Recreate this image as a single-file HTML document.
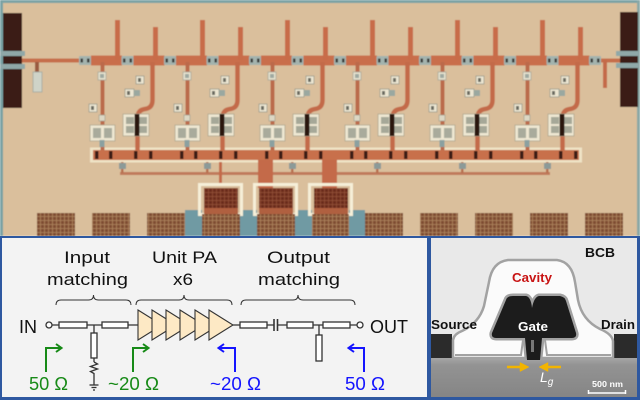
<!DOCTYPE html>
<html><head><meta charset="utf-8"><style>
html,body{margin:0;padding:0;background:#fff;}
svg{display:block;}
</style></head><body>
<svg width="640" height="400" viewBox="0 0 640 400" xmlns="http://www.w3.org/2000/svg">
<defs>
<filter id="soft" x="0" y="0" width="1" height="1"><feGaussianBlur stdDeviation="0.6"/></filter>
<pattern id="lat" width="4" height="4" patternUnits="userSpaceOnUse"><rect width="4" height="4" fill="#7e4c30"/><path d="M0 0.5H4M0.5 0V4" stroke="#b08660" stroke-width="0.8"/></pattern>
<pattern id="lat2" width="4" height="4" patternUnits="userSpaceOnUse"><rect width="4" height="4" fill="#6a2c1c"/><path d="M0 0.5H4M0.5 0V4" stroke="#93513a" stroke-width="0.8"/></pattern>
<g id="cap"><rect x="-6" y="-4.5" width="12" height="9" rx="1" fill="#a3b3ae"/><rect x="-4.5" y="-2" width="2.5" height="4" fill="#3a3a3a"/><rect x="2" y="-2" width="2.5" height="4" fill="#3a3a3a"/></g>
<g id="unit">
 <rect x="91" y="55.5" width="31" height="10" fill="#c96e4b"/>
 <rect x="133.5" y="55.5" width="31" height="10" fill="#c96e4b"/>
 <rect x="115" y="20" width="5" height="40" fill="#c86c49"/>
 <rect x="153" y="27" width="5" height="33" fill="#c86c49"/>
 <rect x="100.5" y="62" width="4" height="88" fill="#bb6a4b"/>
 <path d="M152.5 62 V100 Q152.5 108 145 109 Q137.5 110 137.5 118 V150" stroke="#c36a49" stroke-width="4.5" fill="none"/>
 <rect x="98" y="72" width="8" height="8" fill="#e6e2cf" stroke="#a8a89a" stroke-width="0.8"/><rect x="100" y="74" width="4" height="4" fill="#9fa9a0"/>
 <rect x="89" y="104" width="8" height="8" fill="#ece6d2" stroke="#9a9a8c" stroke-width="0.8"/><rect x="91" y="106" width="3" height="4" fill="#6a6a60"/>
 <rect x="99" y="115" width="6" height="6" fill="#ddd8c4" stroke="#9a9a8c" stroke-width="0.6"/>
 <rect x="90" y="125" width="25" height="16" fill="#eee7d2" stroke="#b0a890" stroke-width="0.8"/>
 <rect x="93" y="128" width="8" height="10" fill="#a9ab9c"/><rect x="104" y="128" width="8" height="10" fill="#a9ab9c"/>
 <rect x="99.5" y="140" width="5" height="7" fill="#8aa0a0"/>
 <rect x="136" y="76" width="8" height="8" fill="#ece6d2" stroke="#9a9a8c" stroke-width="0.8"/><rect x="138" y="78" width="3" height="4" fill="#6a6a60"/>
 <rect x="125" y="89" width="9" height="8" fill="#ece6d2" stroke="#9a9a8c" stroke-width="0.8"/><rect x="127" y="91" width="3" height="4" fill="#6a6a60"/>
 <rect x="134" y="90" width="6" height="6" fill="#9aa8a0"/>
 <rect x="123" y="114" width="26" height="22" fill="#eee7d2" stroke="#b0a890" stroke-width="0.8"/>
 <rect x="126" y="117" width="8" height="7" fill="#a6a898"/><rect x="126" y="126" width="8" height="7" fill="#a6a898"/>
 <rect x="139" y="117" width="8" height="7" fill="#a6a898"/><rect x="139" y="126" width="8" height="7" fill="#a6a898"/>
 <rect x="134.5" y="114" width="5" height="22" fill="#2c1810"/>
 <rect x="95" y="151" width="3.5" height="8" fill="#3b1a12"/><rect x="109" y="151" width="3.5" height="8" fill="#3b1a12"/>
 <rect x="134" y="151" width="3.5" height="8" fill="#3b1a12"/><rect x="149" y="151" width="3.5" height="8" fill="#3b1a12"/>
 <rect x="121" y="162" width="2.5" height="11" fill="#b8704f"/>
 <rect x="119" y="163" width="7" height="6" fill="#8c9a98"/>
 <use href="#cap" x="85" y="60.5"/>
 <use href="#cap" x="127.5" y="60.5"/>
</g>
<clipPath id="semclip"><rect x="431" y="238" width="206" height="159"/></clipPath>
<linearGradient id="sub" x1="0" y1="0" x2="0" y2="1"><stop offset="0" stop-color="#a8a8a8"/><stop offset="0.2" stop-color="#939393"/><stop offset="1" stop-color="#858585"/></linearGradient>
</defs>

<!-- CHIP -->
<g filter="url(#soft)">
<rect x="0" y="0" width="640" height="236" fill="#dabf9c"/>
<rect x="0" y="0" width="640" height="3" fill="#7ba3a5"/>
<rect x="0" y="0" width="3" height="236" fill="#7aa2a4"/>
<rect x="637" y="0" width="3" height="236" fill="#8aa8a6"/>
<rect x="22" y="58.5" width="598" height="4" fill="#c66e4c"/>
<rect x="90" y="147.5" width="492" height="15" fill="#efe3c6"/>
<rect x="93" y="150" width="486" height="10" fill="#c86f4c"/>
<rect x="120" y="172" width="430" height="3" fill="#c07a5c"/>
<use href="#unit" x="0"/>
<use href="#unit" x="85"/>
<use href="#unit" x="170"/>
<use href="#unit" x="255"/>
<use href="#unit" x="340"/>
<use href="#unit" x="425"/>
<use href="#cap" x="595" y="60.5"/>
<rect x="3" y="13" width="19" height="95" fill="#3b1f19"/>
<rect x="0" y="51" width="25" height="5" fill="#8fa8a8"/>
<rect x="0" y="64" width="25" height="5" fill="#8fa8a8"/>
<rect x="35" y="62" width="4" height="10" fill="#9a5a40"/>
<rect x="33" y="72" width="9" height="20" fill="#cfd3c8" stroke="#a0a8a0" stroke-width="0.8"/>
<rect x="620" y="12" width="18" height="95" fill="#3b1f19"/>
<rect x="616" y="51" width="24" height="5" fill="#8fa8a8"/>
<rect x="616" y="63" width="24" height="5" fill="#8fa8a8"/>
<rect x="603" y="60" width="4" height="28" fill="#c46a48"/>
<rect x="258" y="160" width="15" height="28" fill="#c46a48"/>
<rect x="322" y="160" width="15" height="28" fill="#c46a48"/>
<rect x="219" y="162" width="3" height="23" fill="#c46a48"/>
<rect x="185" y="210" width="17" height="26" fill="#6f9aa3"/>
<rect x="240" y="210" width="17" height="26" fill="#6f9aa3"/>
<rect x="295" y="210" width="17" height="26" fill="#6f9aa3"/>
<rect x="349" y="210" width="16" height="26" fill="#6f9aa3"/>
<rect x="199.5" y="184.5" width="42" height="30" fill="none" stroke="#f6efd8" stroke-width="3"/>
<rect x="204" y="188" width="34" height="22" fill="url(#lat2)"/>
<rect x="254.5" y="184.5" width="42" height="30" fill="none" stroke="#f6efd8" stroke-width="3"/>
<rect x="259" y="188" width="34" height="22" fill="url(#lat2)"/>
<rect x="309.5" y="184.5" width="42" height="30" fill="none" stroke="#f6efd8" stroke-width="3"/>
<rect x="314" y="188" width="34" height="22" fill="url(#lat2)"/>
<rect x="204" y="208" width="34" height="6" fill="#b0603f"/>
<rect x="259" y="208" width="34" height="6" fill="#b0603f"/>
<rect x="314" y="208" width="34" height="6" fill="#b0603f"/>
<g fill="url(#lat)">
<rect x="37" y="213" width="38" height="23"/>
<rect x="92" y="213" width="38" height="23"/>
<rect x="147" y="213" width="38" height="23"/>
<rect x="202" y="214" width="38" height="22"/>
<rect x="257" y="214" width="38" height="22"/>
<rect x="312" y="214" width="37" height="22"/>
<rect x="365" y="213" width="38" height="23"/>
<rect x="420" y="213" width="38" height="23"/>
<rect x="475" y="213" width="38" height="23"/>
<rect x="530" y="213" width="38" height="23"/>
<rect x="585" y="213" width="38" height="23"/>
</g>
</g>

<!-- PANELS -->
<rect x="0" y="236" width="640" height="164" fill="#2e58a0"/>
<rect x="2" y="238" width="425" height="159" fill="#f3f3f3"/>
<rect x="431" y="238" width="206" height="159" fill="#e9e9e9"/>

<!-- SCHEMATIC -->
<g font-family="Liberation Sans, Arial, sans-serif" font-size="17" fill="#111">
<text x="64" y="263" textLength="46" lengthAdjust="spacingAndGlyphs">Input</text>
<text x="47" y="285" textLength="81" lengthAdjust="spacingAndGlyphs">matching</text>
<text x="152" y="263" textLength="65" lengthAdjust="spacingAndGlyphs">Unit PA</text>
<text x="173" y="285" textLength="20" lengthAdjust="spacingAndGlyphs">x6</text>
<text x="267" y="263" textLength="63" lengthAdjust="spacingAndGlyphs">Output</text>
<text x="258" y="285" textLength="82" lengthAdjust="spacingAndGlyphs">matching</text>
<text x="19" y="333" font-size="18" textLength="18" lengthAdjust="spacingAndGlyphs">IN</text>
<text x="370" y="333" font-size="18" textLength="38" lengthAdjust="spacingAndGlyphs">OUT</text>
</g>
<g fill="none" stroke="#333" stroke-width="1">
<path d="M56 305 Q56 300 61 300 L88.5 300 Q93.5 300 93.5 295 Q93.5 300 98.5 300 L126 300 Q131 300 131 305"/>
<path d="M136 305 Q136 300 141 300 L179 300 Q184 300 184 295 Q184 300 189 300 L227 300 Q232 300 232 305"/>
<path d="M241 305 Q241 300 246 300 L293 300 Q298 300 298 295 Q298 300 303 300 L350 300 Q355 300 355 305"/>
</g>
<g stroke="#333" stroke-width="1.3" fill="#fff">
<line x1="52" y1="325" x2="138" y2="325"/>
<line x1="94" y1="325" x2="94" y2="333"/>
<line x1="94" y1="358" x2="94" y2="362"/>
<polyline fill="none" points="94,362 97.5,364 90.5,366.5 97.5,369 90.5,371.5 94,373.5 94,385"/>
<line x1="89.5" y1="385" x2="98.5" y2="385"/>
<line x1="91.5" y1="387.5" x2="96.5" y2="387.5"/>
<line x1="93" y1="390" x2="95" y2="390"/>
<circle cx="49" cy="325" r="3"/>
<rect x="59" y="322" width="28" height="6"/>
<rect x="102" y="322" width="26" height="6"/>
<rect x="91" y="333" width="6" height="25"/>
<line x1="233" y1="325" x2="274" y2="325"/>
<line x1="277" y1="325" x2="357" y2="325"/>
<line x1="319" y1="325" x2="319" y2="335"/>
<line x1="274" y1="319" x2="274" y2="331" stroke-width="1.6"/>
<line x1="277.5" y1="319" x2="277.5" y2="331" stroke-width="1.6"/>
<rect x="240" y="322" width="27" height="6"/>
<rect x="287" y="322" width="26" height="6"/>
<rect x="323" y="322" width="27" height="6"/>
<rect x="316" y="335" width="6" height="26"/>
<circle cx="360" cy="325" r="3"/>
</g>
<g fill="#fde9c5" stroke="#333" stroke-width="1.1">
<polygon points="138,310 162,325 138,340"/>
<polygon points="152,310 176,325 152,340"/>
<polygon points="166,310 190,325 166,340"/>
<polygon points="180,310 204,325 180,340"/>
<polygon points="195,310 219,325 195,340"/>
<polygon points="209,310 233,325 209,340"/>
</g>
<g fill="none" stroke-width="2">
<polyline stroke="#178a17" points="46,372 46,348 61,348"/>
<polyline stroke="#178a17" points="56,344 61.5,348 56,352"/>
<polyline stroke="#178a17" points="133,372 133,348 148,348"/>
<polyline stroke="#178a17" points="143,344 148.5,348 143,352"/>
<polyline stroke="#1414ff" points="235,372 235,348 219,348"/>
<polyline stroke="#1414ff" points="224,344 218.5,348 224,352"/>
<polyline stroke="#1414ff" points="364,372 364,348 349,348"/>
<polyline stroke="#1414ff" points="354,344 348.5,348 354,352"/>
</g>
<g font-family="Liberation Sans, Arial, sans-serif" font-size="18">
<text x="29" y="390" fill="#178a17" textLength="39" lengthAdjust="spacingAndGlyphs">50 Ω</text>
<text x="108" y="390" fill="#178a17" textLength="51" lengthAdjust="spacingAndGlyphs">~20 Ω</text>
<text x="210" y="390" fill="#1414ff" textLength="51" lengthAdjust="spacingAndGlyphs">~20 Ω</text>
<text x="345" y="390" fill="#1414ff" textLength="40" lengthAdjust="spacingAndGlyphs">50 Ω</text>
</g>

<!-- SEM -->
<g clip-path="url(#semclip)">
<rect x="431" y="357" width="206" height="40" fill="url(#sub)"/>
<rect x="431" y="334" width="21" height="24" fill="#2b2b2b"/>
<rect x="614" y="334" width="24" height="24" fill="#2b2b2b"/>
<path d="M453 358 L453 340 Q454 334 462 331 Q479 323 484 306 L489 282 Q492 262 508 260 L557 260 Q572 262 575 282 L578 300 Q582 320 600 329 Q612 334 613 341 L613 358 Z" fill="#fbfbfb" stroke="#a2a2a2" stroke-width="2.5"/>
<path d="M455 355 L521 355 L523 340 M545 340 L547 355 L611 355" fill="none" stroke="#a2a2a2" stroke-width="2"/>
<path d="M506 300 Q507 296 513 296 L526 296 Q531 297 532 308 Q534 297 539 296 L560 296 Q565 297 566 301 L576 333 Q577 338 572 338 L542 338 L540 358 L527 358 L525 338 L496 338 Q491 338 492 333 Z" fill="#a2a2a2" stroke="#a2a2a2" stroke-width="5" stroke-linejoin="round"/>
<path d="M506 300 Q507 296 513 296 L526 296 Q531 297 532 308 Q534 297 539 296 L560 296 Q565 297 566 301 L576 333 Q577 338 572 338 L542 338 L540 360 L527 360 L525 338 L496 338 Q491 338 492 333 Z" fill="#1c1c1c"/>
<rect x="531" y="340" width="3" height="12" fill="#777"/>
<g font-family="Liberation Sans, Arial, sans-serif" font-weight="bold" font-size="13">
<text x="585" y="257" fill="#111" textLength="30" lengthAdjust="spacingAndGlyphs">BCB</text>
<text x="512" y="282" fill="#c81414" textLength="40" lengthAdjust="spacingAndGlyphs">Cavity</text>
<text x="431" y="329" fill="#111" textLength="46" lengthAdjust="spacingAndGlyphs">Source</text>
<text x="601" y="329" fill="#111" textLength="34" lengthAdjust="spacingAndGlyphs">Drain</text>
<text x="518" y="331" fill="#fff" textLength="30" lengthAdjust="spacingAndGlyphs">Gate</text>
<text x="592" y="387" fill="#fff" font-size="8.5" textLength="31" lengthAdjust="spacingAndGlyphs">500 nm</text>
</g>
<text x="540" y="382" fill="#fff" font-family="Liberation Sans, Arial, sans-serif" font-style="italic" font-size="14">L<tspan font-size="10" dy="3">g</tspan></text>
<g stroke="#f2b400" stroke-width="2.5" fill="#f2b400">
<line x1="507" y1="367" x2="522" y2="367"/>
<polygon points="520,362.5 529,367 520,371.5" stroke-width="0.5"/>
<line x1="561" y1="367" x2="546" y2="367"/>
<polygon points="548,362.5 539,367 548,371.5" stroke-width="0.5"/>
</g>
<g stroke="#fff" stroke-width="1.5">
<line x1="588" y1="393" x2="626" y2="393"/>
<line x1="588.5" y1="390" x2="588.5" y2="394"/>
<line x1="625.5" y1="390" x2="625.5" y2="394"/>
</g>
</g>
</svg>
</body></html>
